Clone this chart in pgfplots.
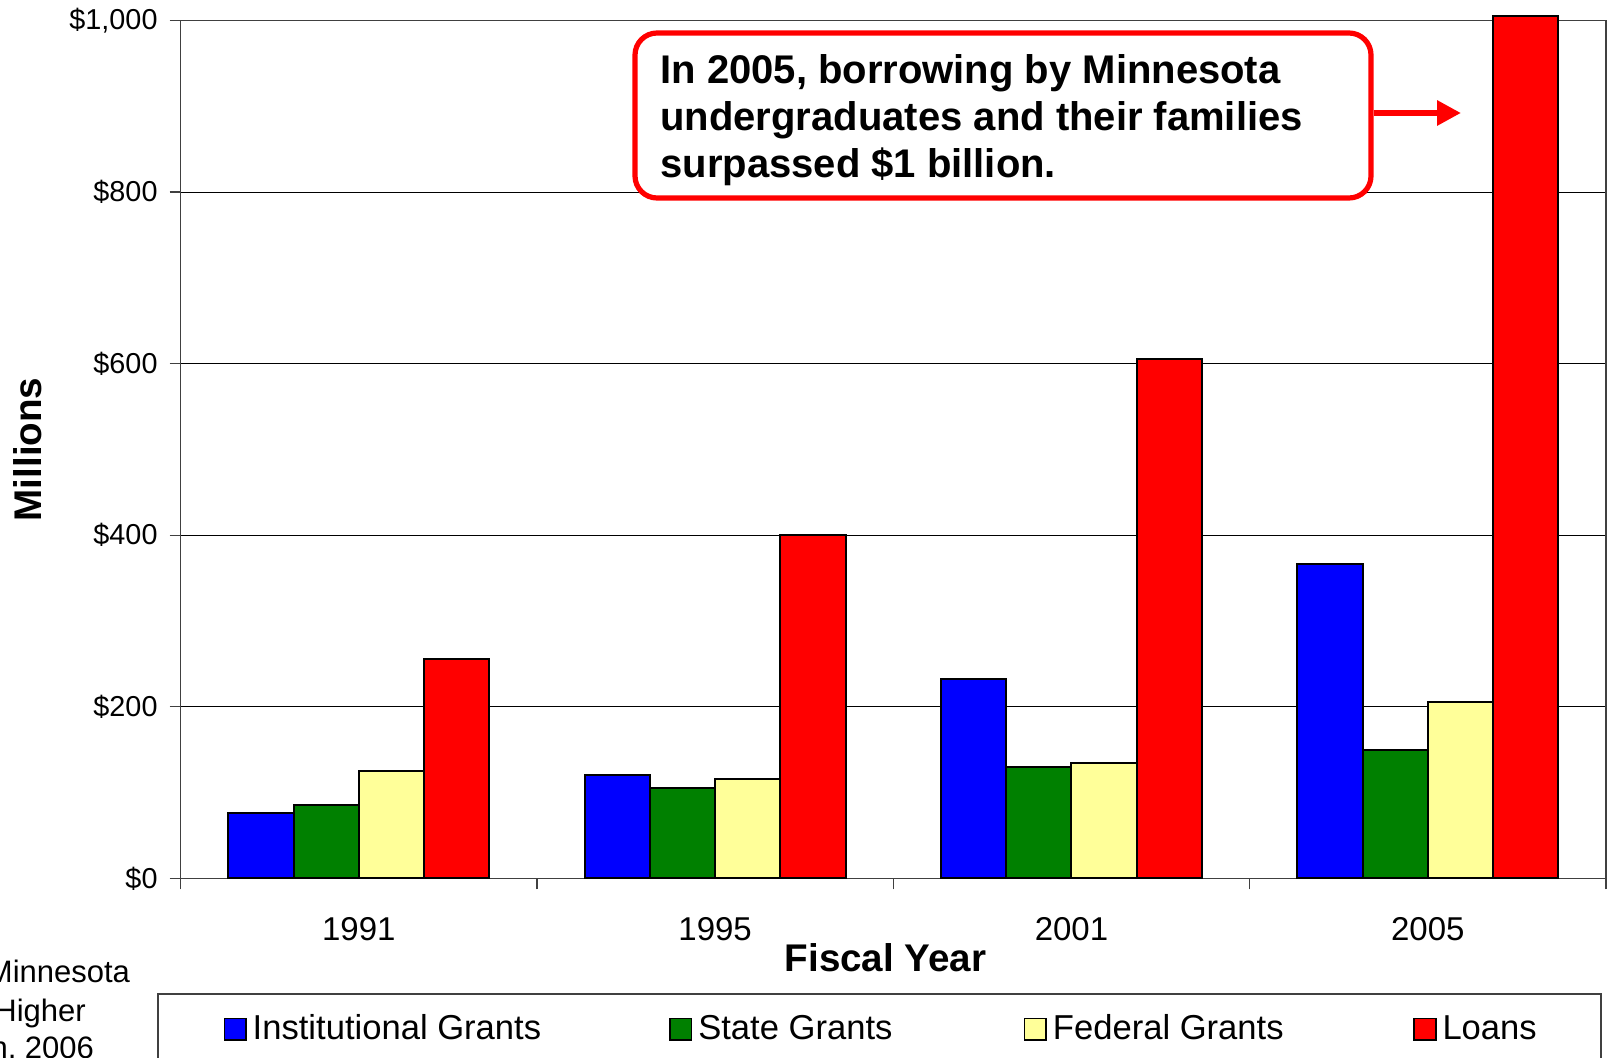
\documentclass[border=0pt]{standalone}
\usepackage{fontspec}
\setmainfont{Liberation Sans}
\usepackage{pgfplots}
\pgfplotsset{compat=1.18}
\usetikzlibrary{arrows.meta}
\definecolor{instblue}{RGB}{0,0,255}
\definecolor{stgreen}{RGB}{0,128,0}
\definecolor{fedyellow}{RGB}{255,255,153}
\definecolor{loanred}{RGB}{255,0,0}
\pgfplotsset{
  mybar/.style={ybar, bar width=0.183, draw=black, line width=1pt,
    legend image code/.code={\draw[##1,line width=0.8pt] (0pt,-5.7pt) rectangle (10.8pt,5.1pt);}},
}
\begin{document}
\begin{tikzpicture}
\useasboundingbox (0,0) rectangle (804.5pt,528.5pt);
\clip (0,0) rectangle (804.5pt,528.5pt);
\begin{axis}[
  at={(90.3pt,89.3pt)}, anchor=south west,
  scale only axis, width=712.7pt, height=428.95pt,
  xmin=-0.5, xmax=3.5, ymin=0, ymax=1000,
  clip=false,
  axis line style={black!75, line width=0.6pt},
  tick pos=left, tick align=outside, major tick length=5.5pt,
  tick style={black!75, line width=0.6pt},
  xtick={-0.5,0.5,1.5,2.5,3.5}, xticklabels={},
  extra x ticks={0,1,2,3},
  extra x tick labels={1991,1995,2001,2005},
  extra x tick style={major tick length=0pt, grid=none,
    xticklabel style={font=\fontsize{16.5}{19}\selectfont, yshift=-16pt}},
  ytick={0,200,400,600,800,1000},
  yticklabels={\$0,\$200,\$400,\$600,\$800,{\$1,000}},
  yticklabel style={font=\fontsize{14.4}{16}\selectfont, xshift=-2.5pt},
  /pgf/number format/assume math mode=true,
  ymajorgrids, grid style={black, line width=0.5pt},
  xlabel={Fiscal Year},
  xlabel style={at={(axis description cs:0.4946,-0.0921)}, anchor=center,
    font=\bfseries\fontsize{19.3}{22}\selectfont},
  ylabel={Millions},
  ylabel style={at={(axis description cs:-0.10727,0.5)}, anchor=center,
    font=\bfseries\fontsize{19.3}{22}\selectfont},
  legend columns=4,
  legend style={at={(axis description cs:-0.01656,-0.13358)}, anchor=north west,
    draw=black!75, line width=0.8pt, inner xsep=32.85pt, inner ysep=8.5pt,
    column sep=0pt, font=\fontsize{17.3}{20}\selectfont,
    nodes={inner xsep=3pt}},
]
\addplot[mybar, bar shift=-0.2745, fill=instblue] coordinates {(0,76.6) (1,121) (2,233) (3,367)};
\addlegendentry{\makebox[205.2pt][l]{Institutional Grants}}
\addplot[mybar, bar shift=-0.0915, fill=stgreen] coordinates {(0,85) (1,105) (2,130) (3,149.5)};
\addlegendentry{\makebox[159.7pt][l]{State Grants}}
\addplot[mybar, bar shift=0.0915, fill=fedyellow] coordinates {(0,125.6) (1,116) (2,135) (3,206)};
\addlegendentry{\makebox[177.2pt][l]{Federal Grants}}
\addplot[mybar, bar shift=0.2745, fill=loanred] coordinates {(0,256) (1,400.7) (2,605) (3,1005)};
\addlegendentry{\makebox[43.3pt][l]{Loans}}
\end{axis}
% annotation
\draw[loanred, line width=2.6pt, rounded corners=11pt, fill=white] (317.5pt,429.5pt) rectangle (685.5pt,512pt);
\node[anchor=west, align=left, font=\bfseries\fontsize{20}{23.6}\selectfont, inner sep=0pt] at (330pt,468.5pt)
  {In 2005, borrowing by Minnesota\\undergraduates and their families\\surpassed \$1 billion.};
\draw[loanred, line width=3.1pt, -{Triangle[length=12pt,width=12pt]}] (686.8pt,472pt) -- (730.5pt,472pt);
% source note (cut off at the left edge, as in the reference)
\node[anchor=base east, font=\fontsize{15.5}{18}\selectfont, inner sep=0pt] at (65.2pt,37.05pt) {Source: Minnesota};
\node[anchor=base east, font=\fontsize{15.5}{18}\selectfont, inner sep=0pt] at (43.1pt,17.55pt) {Office of Higher};
\node[anchor=base east, font=\fontsize{15.5}{18}\selectfont, inner sep=0pt] at (47.2pt,-0.95pt) {Education, 2006};
\end{tikzpicture}
\end{document}
